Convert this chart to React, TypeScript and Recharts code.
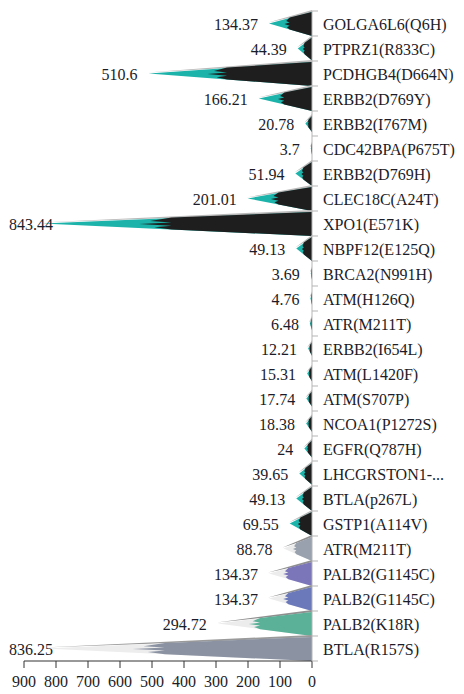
import { BarChart, Bar, XAxis, YAxis, LabelList } from 'recharts';

const mutations = [
  'GOLGA6L6(Q6H)',
  'PTPRZ1(R833C)',
  'PCDHGB4(D664N)',
  'ERBB2(D769Y)',
  'ERBB2(I767M)',
  'CDC42BPA(P675T)',
  'ERBB2(D769H)',
  'CLEC18C(A24T)',
  'XPO1(E571K)',
  'NBPF12(E125Q)',
  'BRCA2(N991H)',
  'ATM(H126Q)',
  'ATR(M211T)',
  'ERBB2(I654L)',
  'ATM(L1420F)',
  'ATM(S707P)',
  'NCOA1(P1272S)',
  'EGFR(Q787H)',
  'LHCGRSTON1-...',
  'BTLA(p267L)',
  'GSTP1(A114V)',
  'ATR(M211T)',
  'PALB2(G1145C)',
  'PALB2(G1145C)',
  'PALB2(K18R)',
  'BTLA(R157S)',
];

const counts = [
  134.37, 44.39, 510.6, 166.21, 20.78, 3.7, 51.94, 201.01, 843.44, 49.13,
  3.69, 4.76, 6.48, 12.21, 15.31, 17.74, 18.38, 24, 39.65, 49.13,
  69.55, 88.78, 134.37, 134.37, 294.72, 836.25,
];

const xTicks = [0, 100, 200, 300, 400, 500, 600, 700, 800, 900];

const data = mutations.map((name, i) => ({ id: i, name, value: counts[i] }));

const FONT = '"Liberation Serif", "Times New Roman", serif';
const BAND = 25;

// spike colours: body near the axis, tip towards the point, thin edge on top
const darkSpike = { body: '#1e1e1e', tip: '#1cb3aa', edge: '#b9b9b9', frac: 0.52 };
const rowSpikes: Record<number, typeof darkSpike> = {
  21: { body: '#98a1ad', tip: '#ececec', edge: '#8f8f8f', frac: 0.55 },
  22: { body: '#7b75ba', tip: '#ececec', edge: '#8f8f8f', frac: 0.55 },
  23: { body: '#6b79bb', tip: '#ececec', edge: '#8f8f8f', frac: 0.55 },
  24: { body: '#5bb198', tip: '#ececec', edge: '#8f8f8f', frac: 0.55 },
  25: { body: '#8b93a3', tip: '#ededed', edge: '#9a9a9a', frac: 0.55 },
};

const pts = (list: number[][]) => list.map((p) => `${p[0]},${p[1]}`).join(' ');

const SpikeShape = (props: any) => {
  const { x, y, width, height, index } = props;
  const right = Math.max(x, x + width);
  const left = Math.min(x, x + width);
  const len = right - left;
  if (!(len > 0)) return null;
  const st = rowSpikes[index] ?? darkSpike;
  const cy = y + height / 2;
  const h = Math.min(height, 11 + len * 0.9);
  const top = cy - h / 2;
  const bot = cy + h / 2;
  const topAt = (px: number) => cy + ((top - cy) * (px - left)) / len;
  const botAt = (px: number) => cy + ((bot - cy) * (px - left)) / len;
  const split = right - len * st.frac;
  const yt = topAt(split);
  const yb = botAt(split);
  const at = (f: number) => yt + (yb - yt) * f;
  const j = len * 0.08;
  const body = [
    [right, top + 1],
    [split, yt],
    [split - j, at(0.3)],
    [split, at(0.42)],
    [split - j * 1.5, at(0.55)],
    [split, at(0.68)],
    [split - j * 0.8, at(0.82)],
    [split, yb],
    [right, bot],
  ];
  return (
    <g>
      <polygon points={pts([[right, top - 1], [left - 1, cy - 1], [right, top + 2]])} fill={st.edge} />
      <polygon points={pts([[right, top + 1], [left, cy], [right, bot]])} fill={st.tip} />
      <polygon points={pts(body)} fill={st.body} />
    </g>
  );
};

const ValueLabel = (props: any) => {
  const { x, y, width, height, value } = props;
  const tip = Math.min(x, x + width);
  const rx = Math.max(tip - 11, 53);
  return (
    <text
      x={rx}
      y={y + height / 2 + 1}
      textAnchor="end"
      dominantBaseline="central"
      fontFamily={FONT}
      fontSize={16}
      fill="#1c1c28"
    >
      {value}
    </text>
  );
};

const CategoryTick = (props: any) => {
  const { x, y, payload, index } = props;
  const last = index === mutations.length - 1;
  return (
    <g>
      <line x1={x} x2={x + 6} y1={y - BAND / 2} y2={y - BAND / 2} stroke="#b5b5b5" />
      {last && <line x1={x} x2={x + 6} y1={y + BAND / 2} y2={y + BAND / 2} stroke="#b5b5b5" />}
      <text x={x + 11} y={y + 1} dominantBaseline="central" fontFamily={FONT} fontSize={16} fill="#1c1c28">
        {mutations[payload.value]}
      </text>
    </g>
  );
};

export default function App() {
  return (
    <div style={{ position: 'absolute', left: 0, top: 0, width: 464, height: 694, background: '#fff' }}>
      <BarChart
        width={464}
        height={694}
        data={data}
        layout="vertical"
        margin={{ top: 11, right: 0, left: 24, bottom: 0 }}
        barCategoryGap={0}
      >
        <XAxis
          type="number"
          domain={[0, 900]}
          ticks={xTicks}
          reversed
          interval={0}
          height={33}
          tickSize={7}
          tickMargin={8}
          axisLine={{ stroke: '#333' }}
          tickLine={{ stroke: '#333' }}
          tick={{ fill: '#1c1c28', fontSize: 16, fontFamily: FONT }}
        />
        <YAxis
          type="category"
          dataKey="id"
          orientation="right"
          width={152}
          interval={0}
          tickSize={0}
          tickMargin={0}
          tickLine={false}
          axisLine={{ stroke: '#b5b5b5' }}
          tick={<CategoryTick />}
        />
        <Bar dataKey="value" shape={<SpikeShape />} isAnimationActive={false}>
          <LabelList dataKey="value" content={<ValueLabel />} />
        </Bar>
      </BarChart>
    </div>
  );
}
